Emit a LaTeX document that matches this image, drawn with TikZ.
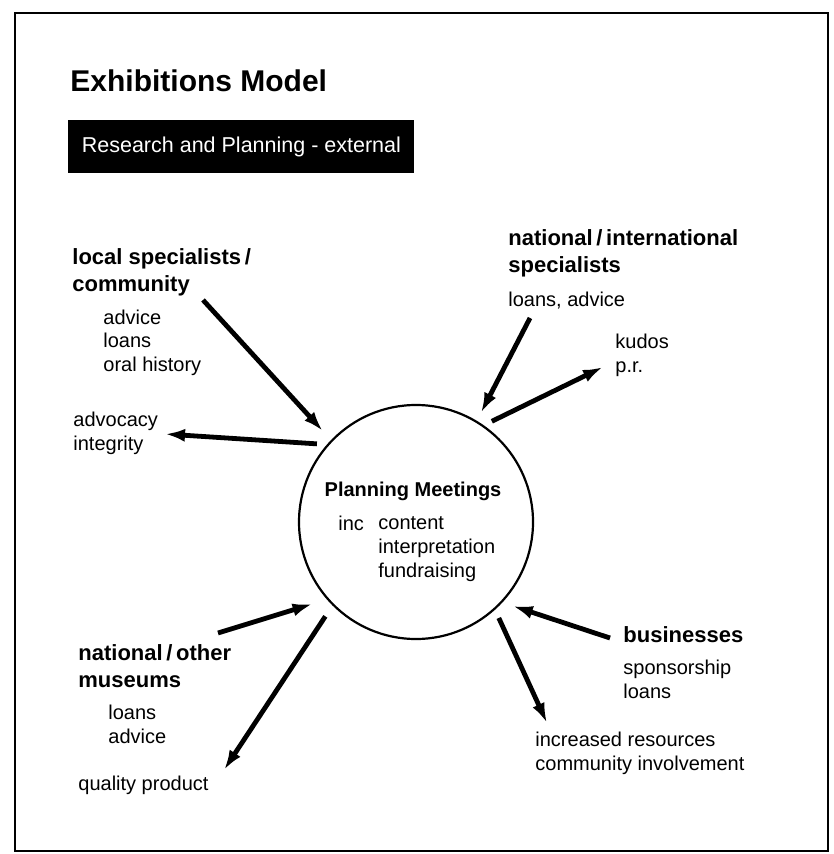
\documentclass[tikz,border=0pt]{standalone}
\usepackage{fontspec}
\setmainfont{Liberation Sans}
\usetikzlibrary{arrows.meta}

\newcommand{\headfont}{\fontsize{11}{13.5}\selectfont\bfseries}
\newcommand{\bodyfont}{\fontsize{10}{12}\selectfont}

% multi-line nodes sit on the baseline of their last line
\tikzset{
	head/.style={anchor=base west, inner sep=0pt, align=left, font=\headfont},
	body/.style={anchor=base west, inner sep=0pt, align=left, font=\bodyfont},
	flow/.style={line width=2.4pt, -{Latex[length=10pt, width=6.5pt]}},
}

\begin{document}
\begin{tikzpicture}[x=0.5pt, y=-0.5pt]
		\useasboundingbox (0,0) rectangle (833,854);
		\draw[line width=1.2pt] (15,13) rectangle (828,851);

		% Title and banner
		\node[anchor=base west, inner sep=0pt, font=\fontsize{15}{18}\selectfont\bfseries] (title) at (70,92)
			{Exhibitions Model};
		\node[anchor=north west, fill=black, text=white, inner sep=0pt, minimum width=173pt, minimum height=26.5pt, font=\fontsize{10.75}{13}\selectfont] (banner) at (68,120)
			{Research and Planning - external};

		% Centre
		\node[circle, draw, line width=1.1pt, minimum size=117pt, inner sep=0pt] (meet) at (416,522) {};
		\node[anchor=base, inner sep=0pt, font=\fontsize{10}{12}\selectfont\bfseries] (meettitle) at (413,496)
			{Planning Meetings};
		\node[body] (inc) at (338,530) {inc};
		\node[body] (topics) at (378,577) {content\\interpretation\\fundraising};

		% Groups
		\node[head] (local) at (72,292) {local specialists\,/\\community};
		\node[body] (localgive) at (103,372) {advice\\loans\\oral history};
		\node[body] (localget) at (73,450) {advocacy\\integrity};

		\node[head] (natint) at (508,273) {national\,/\,international\\specialists};
		\node[body] (natintgive) at (508,307) {loans, advice};
		\node[body] (natintget) at (615,373) {kudos\\p.r.};

		\node[head] (museum) at (78,687) {national\,/\,other\\museums};
		\node[body] (museumgive) at (108,743) {loans\\advice};
		\node[body] (museumget) at (78,790) {quality product};

		\node[head] (biz) at (623,642) {businesses};
		\node[body] (bizgive) at (623,698) {sponsorship\\loans};
		\node[body] (bizget) at (535,770) {increased resources\\community involvement};

		% Arrow ends
		\coordinate (localfrom) at (203,300);
		\coordinate (localto) at (165,434);
		\coordinate (natintfrom) at (530,318);
		\coordinate (natintto) at (603,367);
		\coordinate (museumfrom) at (218,633);
		\coordinate (museumto) at (224,770);
		\coordinate (bizfrom) at (610,638);
		\coordinate (bizto) at (547,723);

		% Arrows
		\draw[flow, shorten >=6pt] (localfrom) -- (meet.136);
		\draw[flow, shorten <=5pt] (meet.139) -- (localto);
		\draw[flow, shorten >=4.5pt] (natintfrom) -- (meet.59);
		\draw[flow, shorten <=4.5pt] (meet.55) -- (natintto);
		\draw[flow, shorten >=7.5pt] (museumfrom) -- (meet.221);
		\draw[flow, shorten <=6.5pt] (meet.225) -- (museumto);
		\draw[flow, shorten >=5.5pt] (bizfrom) -- (meet.317);
		\draw[flow, shorten <=4.5pt] (meet.312) -- (bizto);
\end{tikzpicture}
\end{document}
